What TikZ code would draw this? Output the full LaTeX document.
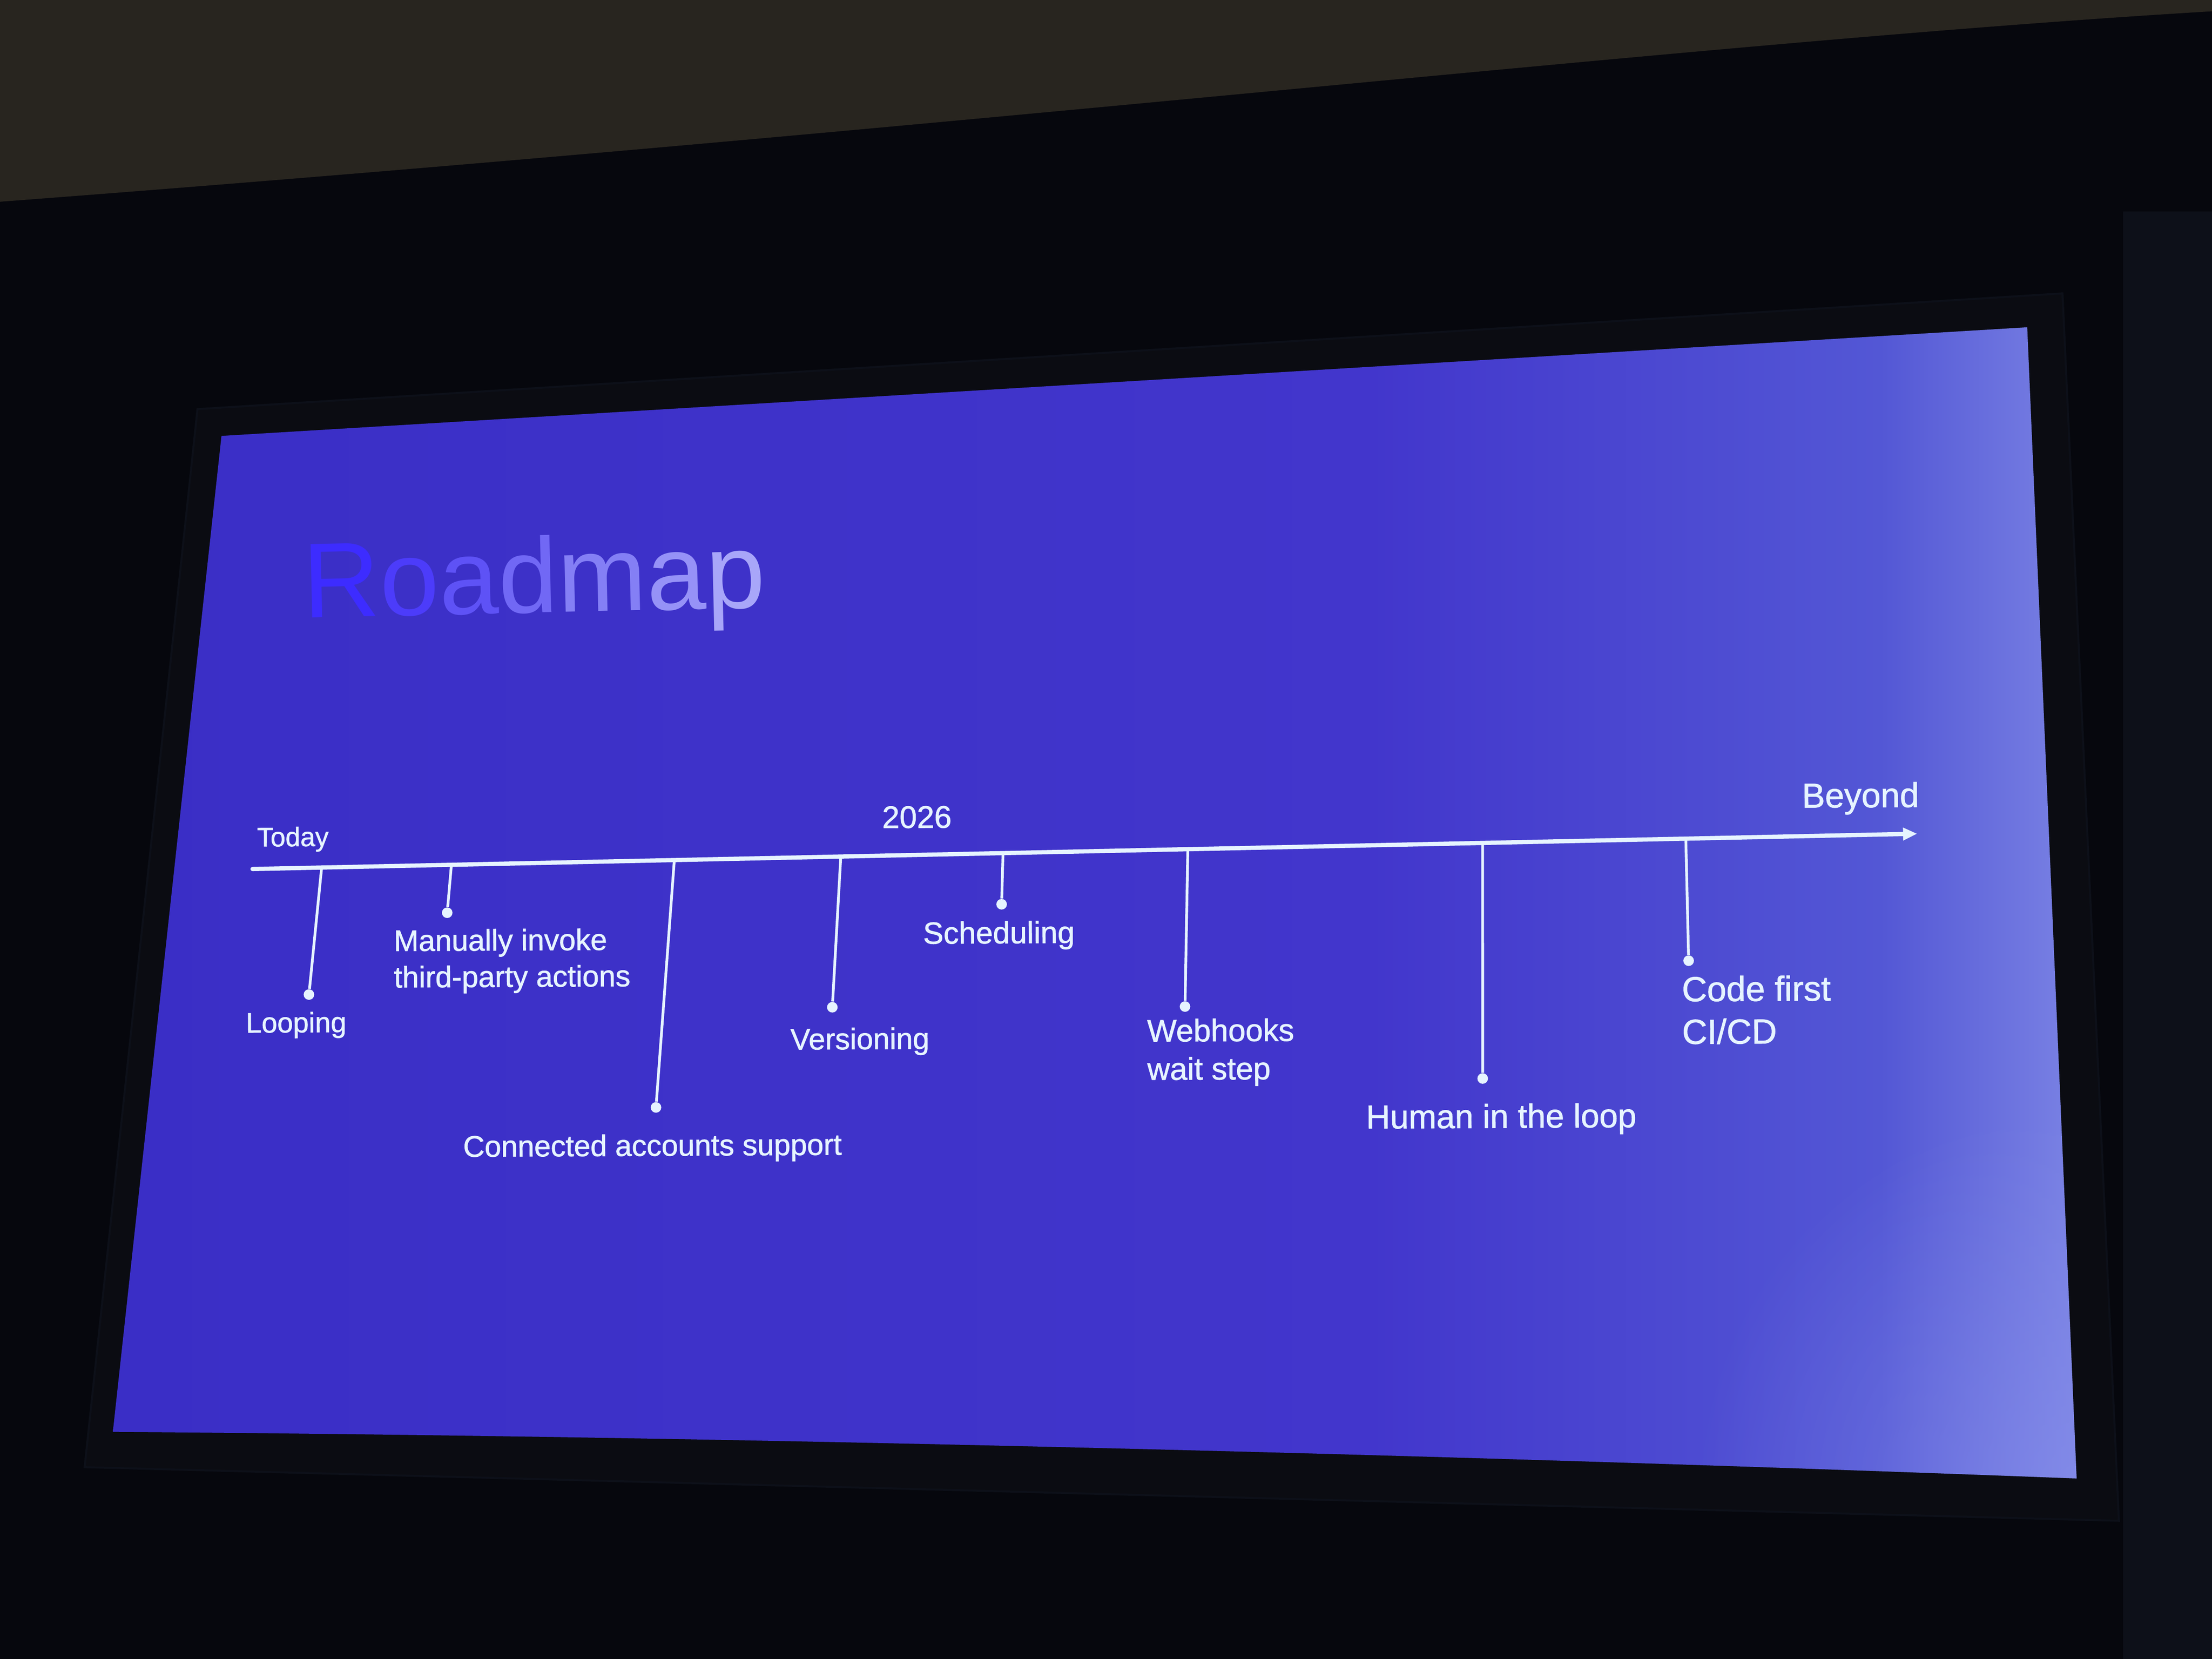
\documentclass[tikz,border=0pt]{standalone}
\usepackage{fontspec}
\setmainfont{Liberation Sans}
\newfontfamily\tagfont[FakeBold=1.2]{Liberation Sans}
\newfontfamily\titlefont[LetterSpace=-2.5]{Liberation Sans}
\usetikzlibrary{
    positioning,
    calc,
    fadings,
    arrows.meta
    }

\definecolor{room}{HTML}{06070D}
\definecolor{ceiling}{HTML}{28251F}
\definecolor{curtain}{HTML}{0D1019}
\definecolor{frame}{HTML}{0B0C12}
\definecolor{ink}{HTML}{E6F4FF}
\definecolor{slideA}{HTML}{3A2EC6}
\definecolor{slideB}{HTML}{4236CC}
\definecolor{slideC}{HTML}{5357D5}
\definecolor{slideD}{HTML}{7A82E4}
\definecolor{glow}{HTML}{8A92EC}
\definecolor{titleA}{HTML}{3D2CFF}
\definecolor{titleB}{HTML}{4C3CFA}
\definecolor{titleC}{HTML}{5E52F6}
\definecolor{titleD}{HTML}{7168F5}
\definecolor{titleE}{HTML}{847FF5}
\definecolor{titleF}{HTML}{9692F7}
\definecolor{titleG}{HTML}{A8A6F9}

% the path is mapped onto 25bp--75bp of the shading
\pgfdeclarehorizontalshading{slide shade}{100bp}{color(0bp)=(slideA); color(25bp)=(slideA); color(57bp)=(slideB); color(70bp)=(slideC); color(75bp)=(slideD); color(100bp)=(slideD)}
\tikzfading[name=corner glow, inner color=transparent!0, outer color=transparent!100]

\begin{document}
\begin{tikzpicture}[x=0.02cm, y=-0.02cm]
\tikzset{screen/.style =
        {
            fill=frame,
            draw=curtain,
            line width=0.8pt
        }
}

\tikzset{axis/.style =
        {
            line width=1.7pt,
            draw=ink,
            line cap=round,
            -{Triangle[length=0.2cm, width=0.17cm]}
        }
}

\tikzset{stem/.style = { line width=1.1pt, draw=ink } }

\tikzset{pin/.style =
        {
            shape=circle,
            fill=ink,
            inner sep=0pt,
            minimum size=0.15cm
        }
}

\tikzset{tag/.style =
        {
            text=ink,
            inner sep=0pt,
            anchor=base west,
            align=left,
            rotate=0.3,
            transform shape,
            font=\tagfont\fontsize{12}{14.7}\selectfont
        }
}

        \useasboundingbox (0,0) rectangle (1568,1176);
        \fill[room] (0,0) rectangle (1568,1176);
        \fill[ceiling] (0,0) -- (1568,0) -- (1568,8) .. controls (1200,30) and (700,90) .. (0,143) -- cycle;
        \fill[curtain] (1505,150) rectangle (1568,1176);

        \filldraw[screen] (140,290) -- (1462,208) -- (1502,1078) -- (60,1040) -- cycle;
        \shade[shading=slide shade] (157,309) -- (1437,232) -- (1472,1048)
            .. controls (1000,1030) and (500,1018) .. (80,1015) -- cycle;
        \begin{scope}
            \clip (157,309) -- (1437,232) -- (1472,1048)
                .. controls (1000,1030) and (500,1018) .. (80,1015) -- cycle;
            \fill[glow, fill opacity=0.55, path fading=corner glow] (1480,1060) circle [radius=280];
        \end{scope}

        \node[anchor=base west, inner sep=0pt, rotate=1.3, font=\titlefont\fontsize{43}{52}\selectfont] (title) at (215,438)
            {\textcolor{titleA}{R}\textcolor{titleB}{o}\textcolor{titleC}{a}\textcolor{titleD}{d}\textcolor{titleE}{m}\textcolor{titleF}{a}\textcolor{titleG}{p}};

        \coordinate (start) at (179,616);
        \coordinate (finish) at (1359,591);
        \draw[axis] (start) -- (finish);

        \foreach \name / \tx / \bx / \by in
            {loop/228/219/705,
                manual/320/317/647,
                acct/478/465/785,
                version/596/590/714,
                sched/711/710/641,
                hook/842/840/713.5,
                human/1051/1051/764.5,
                code/1195/1197/681}
            {
                \coordinate (\name-top) at ($(start)!{(\tx-179)/1180}!(finish)$);
                \node[pin] (\name-end) at (\bx,\by) {};
                \draw[stem] (\name-top) -- (\name-end);
            }

        % base of a two-line tag is its last line
        \foreach \name / \px / \py / \s / \txt in
            {today/182/600/0.9/{Today},
                year/625/587/1.05/{2026},
                beyond/1277/572.5/1.16/{Beyond},
                loop-tag/174/732/0.95/{Looping},
                manual-tag/279/700/1.0/{Manually invoke\\third-party actions},
                acct-tag/328/820/1.0/{Connected accounts support},
                version-tag/560/744/1.0/{Versioning},
                sched-tag/654/669/1.03/{Scheduling},
                hook-tag/813/765.5/1.05/{Webhooks\\wait step},
                human-tag/968/800/1.12/{Human in the loop},
                code-tag/1192/740/1.17/{Code first\\CI/CD}}
        \node[tag, scale=\s] (\name) at (\px,\py) {\txt};

\end{tikzpicture}
\end{document}
